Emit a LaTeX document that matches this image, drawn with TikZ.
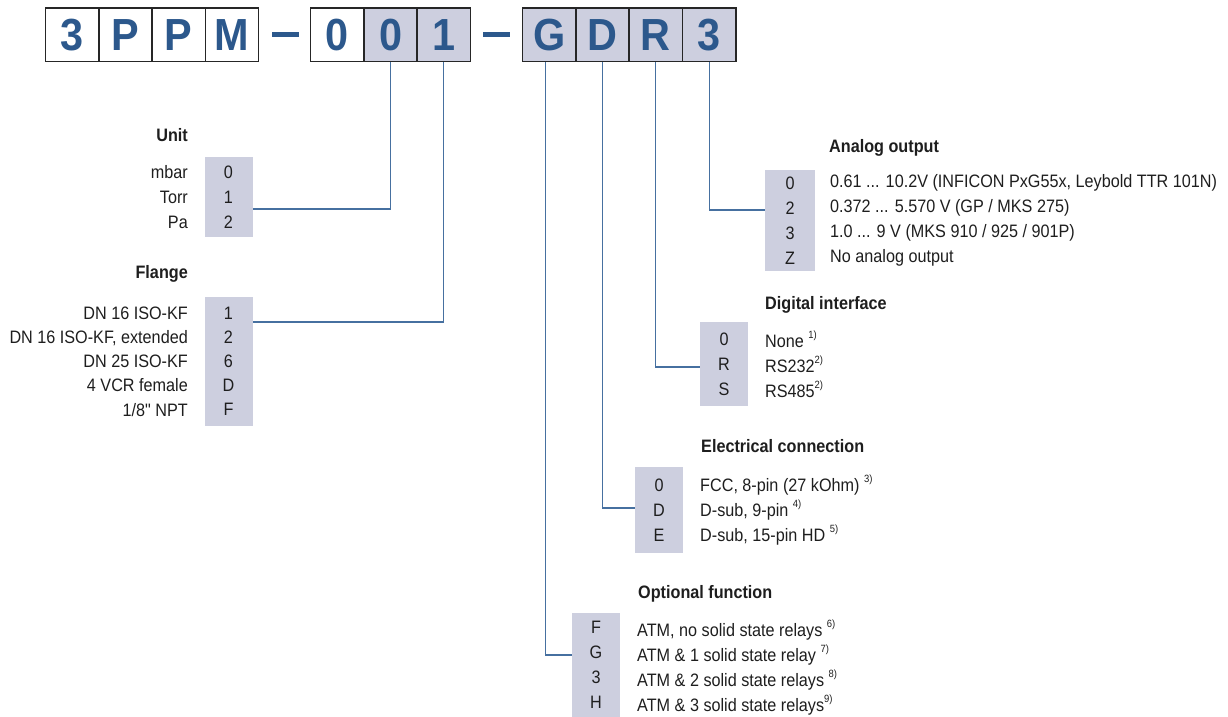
\documentclass[tikz,border=0pt]{standalone}
\usepackage{fontspec}
\setmainfont{Liberation Sans}[FakeStretch=0.9]
\newfontfamily\codefont{Liberation Sans}[FakeStretch=0.92]
\usepackage{xcolor}
\usepackage{tikz}
\usetikzlibrary{positioning}

\definecolor{codeblue}{RGB}{44,88,140}
\definecolor{linkblue}{RGB}{70,112,160}
\definecolor{codegrey}{RGB}{205,207,223}
\definecolor{txt}{RGB}{30,30,30}

\newcommand{\fnote}[1]{\raisebox{0.5em}{\fontsize{10.5}{10.5}\selectfont #1}}
\newcommand{\inchmark}{{\addfontfeatures{Ligatures=TeXOff}"}}

\begin{document}
\begin{tikzpicture}[
    x=1pt, y=-1pt,
    codebox/.style={draw=black!85, line width=1.6, minimum width=53.3, minimum height=53.4, inner sep=0, text=codeblue, font=\codefont\bfseries\fontsize{45}{45}\selectfont},
    codesel/.style={codebox, fill=codegrey},
    dashbar/.style={fill=codeblue, minimum width=27, minimum height=5, inner sep=0},
    column/.style={fill=codegrey, align=center, inner sep=0, minimum width=48, text=txt, font=\fontsize{18}{25}\selectfont},
    names/.style={align=left, inner sep=0, text=txt, font=\fontsize{18}{25}\selectfont},
    rnames/.style={align=right, inner sep=0, text=txt, font=\fontsize{18}{25}\selectfont},
    heading/.style={inner sep=0, text=txt, font=\bfseries\fontsize{18}{20}\selectfont},
    link/.style={draw=linkblue, line width=1.1}
]
    \useasboundingbox (0,0) rectangle (1228,717);

    % order code
    \node[codebox] (c3) at (72.1,35) {3};
    \node[codebox] (cp) at (125.4,35) {P};
    \node[codebox] (cpp) at (178.7,35) {P};
    \node[codebox] (cm) at (232.0,35) {M};
    \node[dashbar] (dash1) at (285.3,35) {};
    \node[codebox] (c0) at (337.3,35) {0};
    \node[codesel] (unit) at (390.6,35) {0};
    \node[codesel] (flange) at (443.9,35) {1};
    \node[dashbar] (dash2) at (496.3,35) {};
    \node[codesel] (optfn) at (549.3,35) {G};
    \node[codesel] (elconn) at (602.6,35) {D};
    \node[codesel] (digif) at (655.9,35) {R};
    \node[codesel] (analog) at (709.2,35) {3};

    % unit
    \node[heading, anchor=east] (unithead) at (188,135) {Unit};
    \node[column, minimum height=79.5] (unitcol) at (228.5,196.8) {0\\1\\2};
    \node[rnames, anchor=east] (unitnames) at (188,196.8) {mbar\\Torr\\Pa};

    % flange
    \node[heading, anchor=east] (flangehead) at (188,274) {Flange};
    \node[column, minimum height=128.7, font=\fontsize{18}{24.2}\selectfont] (flangecol) at (228.5,361.4) {1\\2\\6\\D\\F};
    \node[rnames, anchor=east, font=\fontsize{18}{24.2}\selectfont] (flangenames) at (188,361.4) {DN 16 ISO-KF\\DN 16 ISO-KF, extended\\DN 25 ISO-KF\\4 VCR female\\1/8\inchmark{} NPT};

    % analog output
    \node[heading, anchor=west] (analoghead) at (829,148) {Analog output};
    \node[column, minimum width=50, minimum height=101] (analogcol) at (790,220.5) {0\\2\\3\\Z};
    \node[names, anchor=west] (analognames) at (830,220.5) {0.61 ... 10.2V (INFICON PxG55x, Leybold TTR 101N)\\0.372 ... 5.570 V (GP / MKS 275)\\1.0 ... 9 V (MKS 910 / 925 / 901P)\\No analog output};

    % digital interface
    \node[heading, anchor=west] (digihead) at (765,305) {Digital interface};
    \node[column, minimum height=84] (digicol) at (724,364) {0\\R\\S};
    \node[names, anchor=west] (diginames) at (765,364) {None \fnote{1)}\\RS232\fnote{2)}\\RS485\fnote{2)}};

    % electrical connection
    \node[heading, anchor=west] (elhead) at (701,446) {Electrical connection};
    \node[column, minimum height=86] (elcol) at (659,510) {0\\D\\E};
    \node[names, anchor=west] (elnames) at (700,510) {FCC, 8-pin (27 kOhm) \fnote{3)}\\D-sub, 9-pin \fnote{4)}\\D-sub, 15-pin HD \fnote{5)}};

    % optional function
    \node[heading, anchor=west] (opthead) at (638,594) {Optional function};
    \node[column, minimum height=104] (optcol) at (596,665) {F\\G\\3\\H};
    \node[names, anchor=west] (optnames) at (637,667.5) {ATM, no solid state relays \fnote{6)}\\ATM \& 1 solid state relay \fnote{7)}\\ATM \& 2 solid state relays \fnote{8)}\\ATM \& 3 solid state relays\fnote{9)}};

    % connectors
    \draw[link] (unit.south) |- (unitcol.east |- 0,209);
    \draw[link] (flange.south) |- (flangecol.east |- 0,322);
    \draw[link] (analog.south) |- (analogcol.west |- 0,210);
    \draw[link] (digif.south) |- (digicol.west |- 0,367);
    \draw[link] (elconn.south) |- (elcol.west |- 0,508);
    \draw[link] ([xshift=-3.7]optfn.south) |- (optcol.west |- 0,655);
\end{tikzpicture}
\end{document}
